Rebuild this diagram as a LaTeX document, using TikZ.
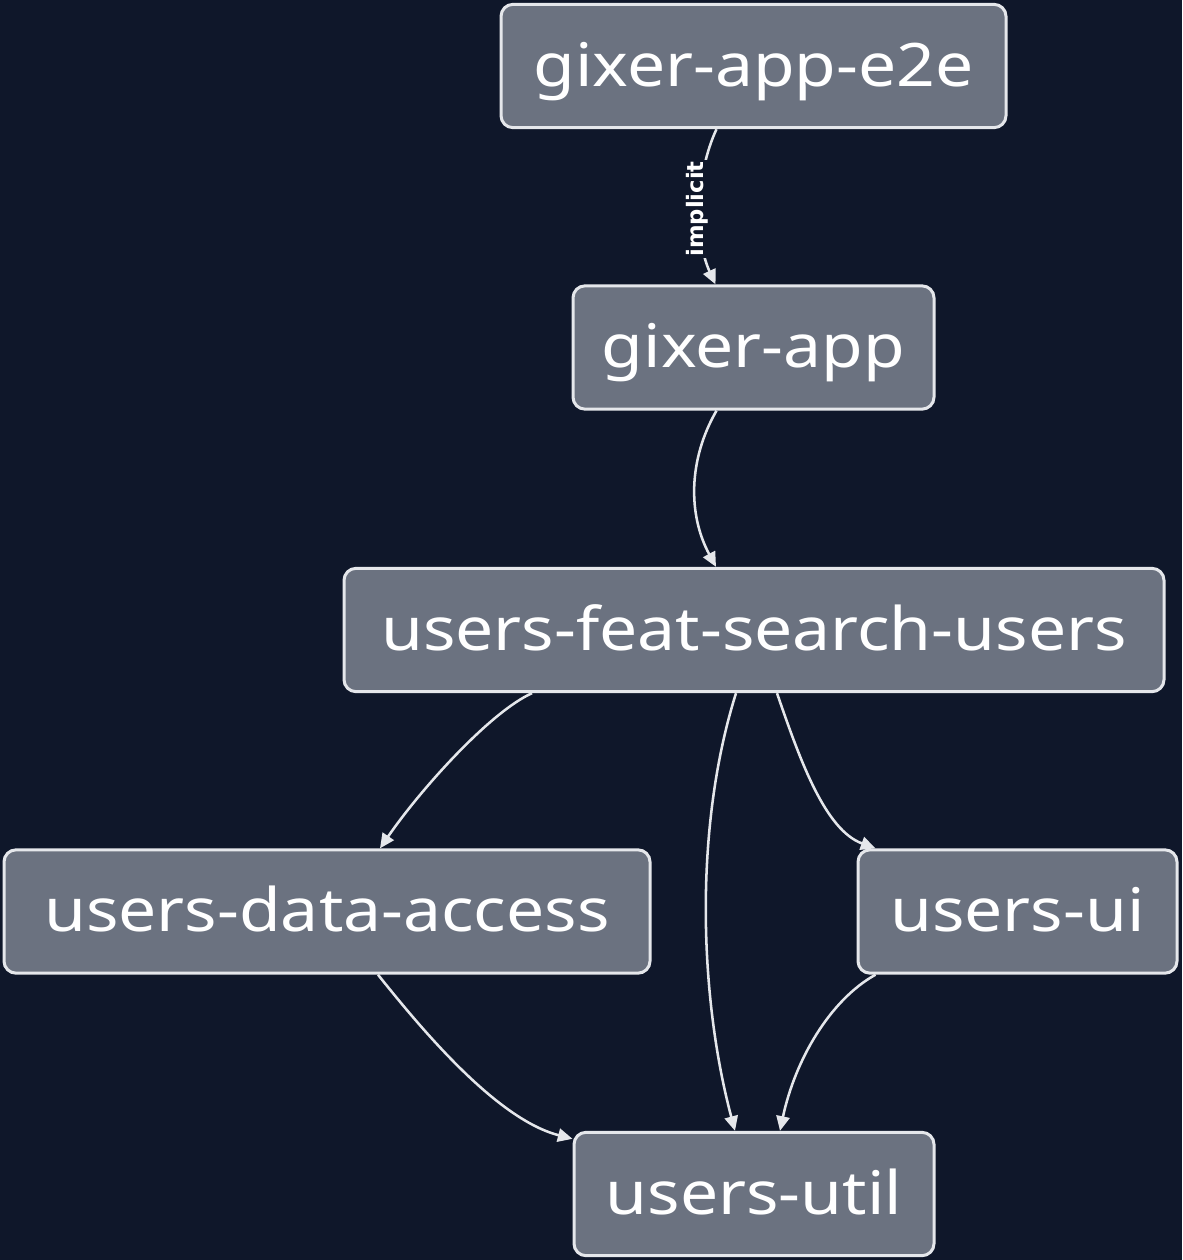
\documentclass[tikz,border=0pt]{standalone}
\usepackage{fontspec}
\setmainfont{Noto Sans}[FakeStretch=1.13]
\newfontfamily\lblfont{DejaVu Sans Bold}
\usetikzlibrary{calc,arrows.meta}
\definecolor{bgc}{HTML}{0F172A}
\definecolor{nodefill}{HTML}{6B7280}
\definecolor{edgec}{HTML}{E5E7EB}
\tikzset{
  pkg/.style={draw=edgec, fill=nodefill, line width=2.25pt, rounded corners=9pt,
    inner sep=0pt, minimum height=92.5pt, text=white, text height=38pt, text depth=8pt,
    font=\fontsize{45}{52}\selectfont},
  dep/.style={draw=edgec, line width=1.9pt, -{Stealth[length=11pt,width=10pt,inset=0pt]}},
  lbl/.style={fill=bgc, text=white, inner sep=1pt, rotate=90,
    font=\lblfont\fontsize{17}{19}\selectfont}
}
\begin{document}
\begin{tikzpicture}[x=0.75pt,y=-0.75pt]
\fill[bgc] (0,0) rectangle (1182,1260);
\useasboundingbox (0,0) rectangle (1182,1260);
\node[pkg, minimum width=378.75pt] (e2e) at (753.5,66) {gixer-app-e2e};
\node[pkg, minimum width=270.75pt] (app) at (753.5,347.5) {gixer-app};
\node[pkg, minimum width=615pt] (feat) at (754,630) {users-feat-search-users};
\node[pkg, minimum width=484.5pt] (data) at (327,911.5) {users-data-access};
\node[pkg, minimum width=239.25pt] (ui) at (1017.5,911.5) {users-ui};
\node[pkg, minimum width=270pt] (util) at (754,1194) {users-util};

\draw[dep] ($(e2e.south)+(-37,0)$) .. controls (695,175) and (695,240) .. ($(app.north)+(-38,0)$);
\node[lbl] (impl) at (697,209) {implicit};
\draw[dep] ($(app.south)+(-37,0)$) .. controls (688,460) and (688,515) .. ($(feat.north)+(-38,0)$);
\draw[dep] ($(feat.south)+(-222,0)$) .. controls (490,712) and (420,790) .. ($(data.north)+(53,0)$);
\draw[dep] ($(feat.south)+(-18,0)$) .. controls (693,830) and (700,1000) .. ($(util.north)+(-19,0)$);
\draw[dep] ($(feat.south)+(23,0)$) .. controls (800,760) and (825,830) .. ($(ui.north)+(-142,0)$);
\draw[dep] ($(data.south)+(51,0)$) .. controls (430,1040) and (500,1120) .. ($(util.north west)+(0,8)$);
\draw[dep] ($(ui.south west)+(19,0)$) .. controls (830,1000) and (795,1060) .. ($(util.north)+(26,0)$);
\end{tikzpicture}
\end{document}
